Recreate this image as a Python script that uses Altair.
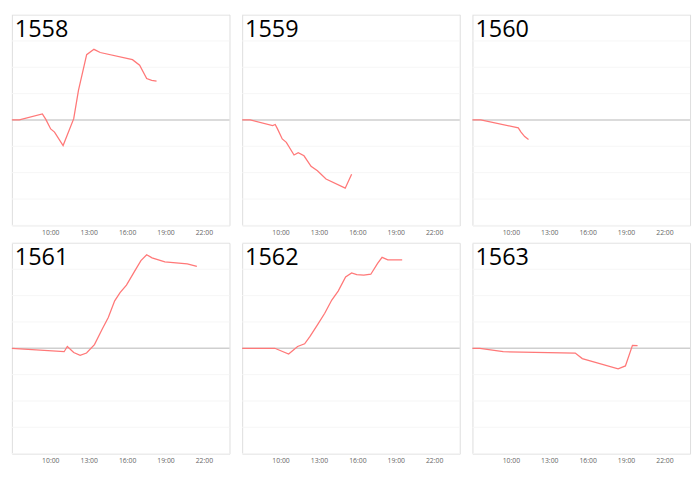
import altair as alt
import pandas as pd

codes = ["1558", "1559", "1560", "1561", "1562", "1563"]

t1558 = [7.0, 7.58, 9.38, 9.65, 10.03, 10.33, 11.0, 11.83, 12.2, 12.84, 13.41, 13.9, 16.42, 16.98, 17.53, 17.92, 18.3]
v1558 = [0, 0, 0.23, 0.02, -0.34, -0.46, -0.97, 0.05, 1.12, 2.48, 2.68, 2.56, 2.29, 2.08, 1.57, 1.5, 1.47]

t1559 = [7.0, 7.63, 9.38, 9.58, 9.75, 10.13, 10.45, 11.05, 11.38, 11.83, 12.38, 12.88, 13.55, 15.05, 15.55]
v1559 = [0, 0, -0.21, -0.17, -0.33, -0.72, -0.85, -1.33, -1.24, -1.36, -1.76, -1.93, -2.24, -2.59, -2.06]

t1560 = [7.0, 7.65, 10.58, 10.78, 11.08, 11.38]
v1560 = [0, 0, -0.30, -0.45, -0.63, -0.74]

t1561 = [7.0, 11.08, 11.33, 11.83, 12.33, 12.83, 13.45, 14.08, 14.53, 15.03, 15.45, 15.95, 16.58, 17.08, 17.53, 17.95, 18.95, 20.7, 21.45]
v1561 = [0, -0.13, 0.07, -0.16, -0.27, -0.18, 0.14, 0.75, 1.17, 1.80, 2.11, 2.40, 2.92, 3.33, 3.55, 3.43, 3.28, 3.20, 3.11]

t1562 = [7.0, 9.55, 10.63, 11.33, 11.88, 12.3, 12.88, 13.45, 14.0, 14.5, 15.08, 15.55, 15.95, 16.5, 17.05, 17.58, 17.93, 18.38, 19.5]
v1562 = [0, 0, -0.22, 0.07, 0.17, 0.45, 0.89, 1.33, 1.83, 2.17, 2.71, 2.86, 2.80, 2.78, 2.81, 3.22, 3.45, 3.36, 3.36]

t1563 = [7.0, 7.58, 9.4, 15.03, 15.58, 18.38, 18.95, 19.5, 19.9]
v1563 = [0, 0, -0.13, -0.18, -0.39, -0.78, -0.67, 0.11, 0.10]

series = {
    "1558": (t1558, v1558),
    "1559": (t1559, v1559),
    "1560": (t1560, v1560),
    "1561": (t1561, v1561),
    "1562": (t1562, v1562),
    "1563": (t1563, v1563),
}

x_ticks = [10, 13, 16, 19, 22]
y_grid = [-4, -3, -2, -1, 1, 2, 3, 4]

W, H = 223, 216
YS = alt.Scale(domain=[-4, 4], nice=False)


def panel(code):
    t, v = series[code]
    df = pd.DataFrame({"t": t, "v": v})
    x = alt.X(
        "t:Q",
        scale=alt.Scale(domain=[7, 24], nice=False, zero=False),
        axis=alt.Axis(
            values=x_ticks,
            labelExpr="datum.value + ':00'",
            title=None,
            grid=False,
            ticks=False,
            domain=False,
            labelFont="Open Sans",
            labelFontSize=7,
            labelColor="#666666",
            labelPadding=3,
        ),
    )
    grid = (
        alt.Chart(pd.DataFrame({"g": y_grid}))
        .mark_rule(color="#f6f6f6", strokeWidth=1)
        .encode(y=alt.Y("g:Q", scale=YS, axis=None))
    )
    zero = (
        alt.Chart(pd.DataFrame({"z": [0]}))
        .mark_rule(color="#cfcfcf", strokeWidth=1.7)
        .encode(y=alt.Y("z:Q", scale=YS, axis=None))
    )
    line = (
        alt.Chart(df)
        .mark_line(color="#ff7878", strokeWidth=1.3)
        .encode(x=x, y=alt.Y("v:Q", scale=YS, axis=None))
    )
    label = (
        alt.Chart(pd.DataFrame({"label": [code]}))
        .mark_text(
            font="Open Sans",
            fontSize=24,
            color="#000000",
            align="left",
            baseline="alphabetic",
        )
        .encode(x=alt.value(3), y=alt.value(23), text="label:N")
    )
    return alt.layer(grid, zero, line, label).properties(width=W, height=H)


row1 = alt.hconcat(*[panel(c) for c in codes[:3]], spacing=7)
row2 = alt.hconcat(*[panel(c) for c in codes[3:]], spacing=7)

chart = (
    alt.vconcat(row1, row2, spacing=6)
    .properties(padding=0)
    .configure_view(stroke="#dddddd", strokeWidth=1.5)
    .configure(background="white")
)

chart.save("out.html", embed_options={"renderer": "svg", "actions": False})
